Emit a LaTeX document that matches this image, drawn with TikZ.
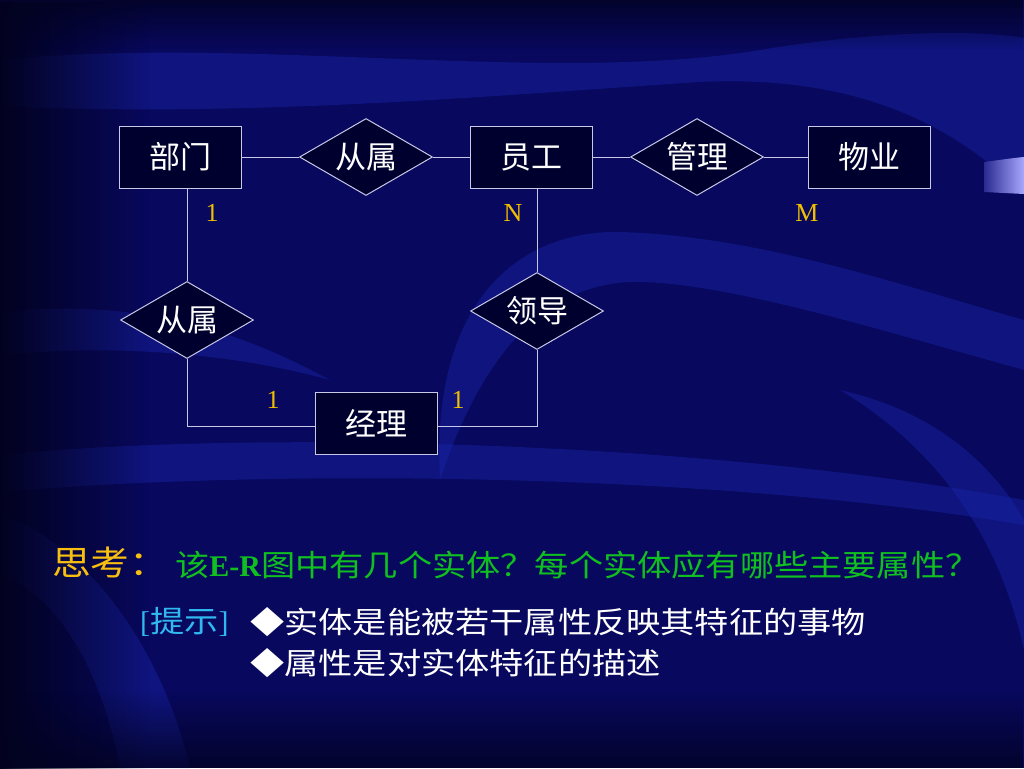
\documentclass[tikz,border=0pt]{standalone}
\usepackage{fontspec}
\setmainfont{Liberation Serif}
\newfontfamily\cjk{Noto Sans CJK SC}
\newfontfamily\cjkw[FakeStretch=1.14]{Noto Sans CJK SC}
\usetikzlibrary{shapes.geometric, fadings}

\definecolor{bgbase}{HTML}{08085E}
\definecolor{bgdark}{HTML}{020220}
\definecolor{bgband}{HTML}{1824A8}
\definecolor{boxfill}{HTML}{00002E}
\definecolor{edgecol}{HTML}{C8C8E8}
\definecolor{numcol}{HTML}{F0C000}
\definecolor{thinkcol}{HTML}{F8BE10}
\definecolor{askcol}{HTML}{10C020}
\definecolor{hintcol}{HTML}{30B8F0}
\definecolor{tablight}{HTML}{A8A8FF}
\definecolor{tabdark}{HTML}{2A2A90}

\tikzset{
  entity/.style={draw=edgecol, line width=1pt, fill=boxfill, text=white,
    minimum width=122pt, minimum height=62pt, inner sep=0pt,
    font=\cjk\fontsize{31}{34}\selectfont},
  relation/.style={diamond, aspect=1.7, draw=edgecol, line width=1pt, fill=boxfill,
    text=white, minimum width=133pt, minimum height=77pt, inner sep=0pt,
    font=\cjk\fontsize{31}{34}\selectfont},
  card/.style={text=numcol, inner sep=0pt, font=\fontsize{26}{28}\selectfont},
  link/.style={draw=edgecol, line width=1pt},
  band/.style={fill=bgband, fill opacity=0.45},
  textline/.style={anchor=west, inner sep=0pt, font=\fontsize{30}{32}\selectfont},
}

\begin{document}
\begin{tikzpicture}[x=1pt, y=-1pt]
  % 背景
  \fill[bgbase] (0,0) rectangle (1024,768);
  \useasboundingbox (0,0) rectangle (1024,768);
  \fill[band] (0,60) .. controls (250,35) and (550,85) .. (760,50)
    .. controls (880,30) and (980,30) .. (1024,38) -- (1024,195)
    .. controls (950,120) and (850,75) .. (700,82)
    .. controls (500,95) and (250,118) .. (0,106) -- cycle;
  \fill[band] (440,480) .. controls (430,300) and (520,230) .. (620,232)
    .. controls (760,236) and (900,285) .. (1024,320) -- (1024,370)
    .. controls (880,330) and (720,280) .. (630,282)
    .. controls (540,286) and (480,360) .. (440,480) -- cycle;
  \fill[band] (0,312) .. controls (120,300) and (220,320) .. (330,380)
    .. controls (220,350) and (100,345) .. (0,355) -- cycle;
  \fill[band] (0,515) .. controls (80,540) and (160,640) .. (190,768)
    -- (120,768) .. controls (100,660) and (50,590) .. (0,575) -- cycle;
  \fill[band] (840,390) .. controls (940,450) and (1000,540) .. (1024,650)
    -- (1024,520) .. controls (990,460) and (930,410) .. (840,390) -- cycle;
  \fill[band] (0,455) .. controls (250,430) and (700,440) .. (1024,500)
    -- (1024,525) .. controls (700,470) and (250,470) .. (0,492) -- cycle;
  \fill[bgdark, path fading=east] (0,0) rectangle (150,768);
  \fill[bgdark, path fading=south, fill opacity=0.8] (0,0) rectangle (1024,50);
  \fill[bgdark, path fading=north, fill opacity=0.8] (0,690) rectangle (1024,768);
  \shade[left color=tabdark, right color=tablight] (984,162) .. controls (1000,160) and (1012,158) .. (1024,157)
    -- (1024,194) -- (984,192) -- cycle;

  % 实体与联系
  \node[entity] (bm) at (180,157) {部门};
  \node[relation] (cs1) at (366,157) {从属};
  \node[entity] (yg) at (531,157) {员工};
  \node[relation] (gl) at (697,157) {管理};
  \node[entity] (wy) at (869,157) {物业};
  \node[relation] (cs2) at (187,320) {从属};
  \node[relation] (ld) at (537,311) {领导};
  \node[entity] (jl) at (376,423) {经理};

  % 连线
  \draw[link] (bm) -- (cs1);
  \draw[link] (cs1) -- (yg);
  \draw[link] (yg) -- (gl);
  \draw[link] (gl) -- (wy);
  \draw[link] (cs2.north) -- (cs2.north |- bm.south);
  \draw[link] (cs2.south) |- ([yshift=-3pt]jl.west);
  \draw[link] (ld.north) -- (ld.north |- yg.south);
  \draw[link] (ld.south) |- ([yshift=-3pt]jl.east);

  % 联系的类型
  \node[card] (c1) at (212,213) {1};
  \node[card] (cn) at (513,213) {N};
  \node[card] (cm) at (807,213) {M};
  \node[card] (c2) at (273,400) {1};
  \node[card] (c3) at (458,400) {1};

  % 思考与提示
  \node[textline, text=thinkcol, font=\cjkw\fontsize{34}{36}\selectfont]
    (think) at (52,562) {思考：};
  \node[textline, text=askcol]
    (ask) at (175,565) {{\cjkw 该}\textbf{E-R}{\cjkw 图中有几个实体？每个实体应有哪些主要属性？}};
  \node[textline, text=hintcol] (hint) at (140,622) {[{\cjkw 提示}]};
  \node[textline, text=white, font=\cjkw\fontsize{30}{32}\selectfont]
    (fact1) at (250,622) {◆实体是能被若干属性反映其特征的事物};
  \node[textline, text=white, font=\cjkw\fontsize{30}{32}\selectfont]
    (fact2) at (250,663) {◆属性是对实体特征的描述};
\end{tikzpicture}
\end{document}
